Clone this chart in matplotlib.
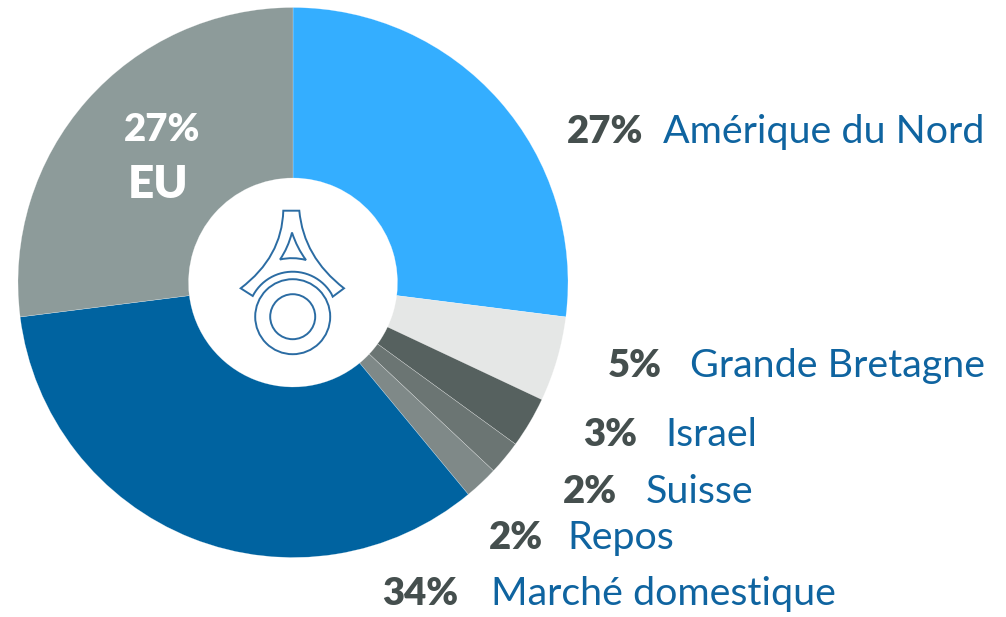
"""
Donut chart: répartition géographique, with the outline logo in the hole.
"""
import numpy as np
import matplotlib.pyplot as plt
from matplotlib.path import Path
from matplotlib.patches import PathPatch, Circle

# data
labels = ["Amérique du Nord", "Grande Bretagne", "Israel", "Suisse", "Repos",
          "Marché domestique", "EU"]
shares = [27, 5, 3, 2, 2, 34, 27]
colors = ["#34AEFF", "#E5E7E6", "#56615F", "#6B7573", "#7F8988", "#0063A0", "#8D9B9A"]

# label placement in pixels: (percent right edge, name left edge, y)
label_pos = {
    "Amérique du Nord": (643, 663, 132),
    "Grande Bretagne": (662, 690, 366),
    "Israel": (637, 665, 435),
    "Suisse": (617, 646, 492),
    "Repos": (543, 567, 538),
    "Marché domestique": (458, 491, 594),
}

W, H = 1006, 617
PCT_COLOR = "#454F4E"
NAME_COLOR = "#0F64A0"
LOGO_COLOR = "#2B6CA3"
FONT = ["Lato", "DejaVu Sans"]

fig = plt.figure(figsize=(W / 100, H / 100), dpi=100)

# pie axes: square box, centre (293, 282.5), radius 275 px
cx, cy, R = 293, 282.5, 275
ax = fig.add_axes([(cx - R) / W, (H - cy - R) / H, 2 * R / W, 2 * R / H])
ax.pie(shares, colors=colors, startangle=90, counterclock=False,
       wedgeprops=dict(width=0.62, edgecolor="#FFFFFF80", linewidth=0.3))
ax.set_xlim(-1, 1)
ax.set_ylim(-1, 1)
ax.set_aspect("auto")
ax.axis("off")

# overlay in pixel coordinates for labels and the logo
ov = fig.add_axes([0, 0, 1, 1])
ov.set_xlim(0, W)
ov.set_ylim(H, 0)
ov.axis("off")

for name, share in zip(labels, shares):
    if name not in label_pos:
        continue
    xr, xl, y = label_pos[name]
    ov.text(xr, y, f"{share}%", ha="right", va="center", fontsize=27.5,
            fontweight="heavy", color=PCT_COLOR, family=FONT)
    ov.text(xl, y, name, ha="left", va="center", fontsize=28.4,
            color=NAME_COLOR, family=FONT)

# EU label inside its slice
ov.text(162, 130, f"{shares[-1]}%", ha="center", va="center", fontsize=27.5,
        fontweight="heavy", color="white", family=FONT)
ov.text(158, 184, "EU", ha="center", va="center", fontsize=33,
        fontweight="heavy", color="white", family=FONT)

# logo: arch with triangular hole, two rings below
lx, ly = 292.7, 316.7
r_arch = 45
t = np.linspace(np.radians(26.6), np.radians(152.6), 30)
arc = [(lx + r_arch * np.cos(a), ly - r_arch * np.sin(a)) for a in t]

verts = [(283.3, 210.7), (299.3, 210.7),
         (303.5, 257.0), (344.0, 288.3),
         (332.7, 296.7)]
codes = [Path.MOVETO, Path.LINETO, Path.CURVE3, Path.CURVE3, Path.LINETO]
verts += arc[1:]
codes += [Path.LINETO] * (len(arc) - 1)
verts += [(240.7, 288.3), (282.0, 257.0), (283.3, 210.7), (283.3, 210.7)]
codes += [Path.LINETO, Path.CURVE3, Path.CURVE3, Path.CLOSEPOLY]
ov.add_patch(PathPatch(Path(verts, codes), fill=False, edgecolor=LOGO_COLOR, lw=1.4))

tri = [(292.0, 232.5), (288.0, 248.0), (280.0, 259.5),
       (293.0, 256.5), (306.0, 260.0),
       (297.0, 248.0), (292.0, 232.5), (292.0, 232.5)]
tcodes = [Path.MOVETO, Path.CURVE3, Path.CURVE3, Path.CURVE3, Path.CURVE3,
          Path.CURVE3, Path.CURVE3, Path.CLOSEPOLY]
ov.add_patch(PathPatch(Path(tri, tcodes), fill=False, edgecolor=LOGO_COLOR, lw=1.4))

for r in (37.5, 22.5):
    ov.add_patch(Circle((lx, ly), r, fill=False, edgecolor=LOGO_COLOR, lw=1.4))

fig.savefig("out.png", dpi=100)
